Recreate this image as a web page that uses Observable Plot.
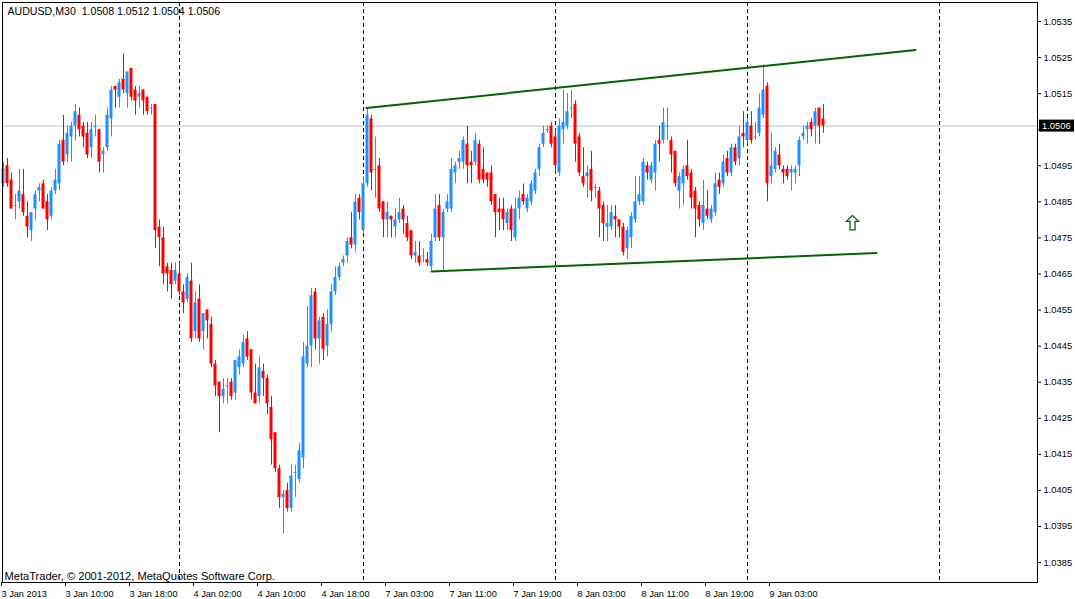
<!DOCTYPE html>
<html><head><meta charset="utf-8">
<script src="https://cdn.jsdelivr.net/npm/d3@7"></script>
<script src="https://cdn.jsdelivr.net/npm/@observablehq/plot@0.6"></script>
<style>html,body{margin:0;padding:0;background:#fff;overflow:hidden}svg{display:block}</style>
</head><body><div id="chart"></div>
<script>
// ---- data (AUDUSD M30, bar index 0 = 3 Jan 2013 02:00) ----
const symbolName = "AUDUSD,M30";
const headerOHLC = ["1.0508", "1.0512", "1.0504", "1.0506"];
const open = [
1.0490,1.0495,1.0491,1.0484,1.0485,1.0487,1.0481,1.0477,1.0483,1.0488,
1.0490,1.0485,1.0481,1.0488,1.0490,1.0502,1.0498,1.0503,1.0506,1.0509,
1.0506,1.0504,1.0500,1.0506,1.0505,1.0498,1.0500,1.0508,1.0517,1.0514,
1.0519,1.0515,1.0522,1.0516,1.0514,1.0516,1.0514,1.0511,1.0512,1.0478,
1.0475,1.0467,1.0466,1.0463,1.0465,1.0460,1.0458,1.0463,1.0449,1.0458,
1.0449,1.0455,1.0451,1.0440,1.0435,1.0431,1.0434,1.0435,1.0432,1.0439,
1.0440,1.0447,1.0444,1.0432,1.0431,1.0438,1.0436,1.0428,1.0421,1.0411,
1.0403,1.0405,1.0400,1.0410,1.0408,1.0414,1.0440,1.0445,1.0460,1.0447,
1.0453,1.0445,1.0451,1.0460,1.0464,1.0468,1.0470,1.0475,1.0473,1.0486,
1.0477,1.0490,1.0508,1.0494,1.0495,1.0485,1.0480,1.0481,1.0478,1.0480,
1.0483,1.0479,1.0477,1.0470,1.0470,1.0470,1.0469,1.0467,1.0475,1.0484,
1.0475,1.0483,1.0483,1.0493,1.0496,1.0496,1.0501,1.0496,1.0496,1.0501,
1.0494,1.0493,1.0493,1.0487,1.0483,1.0483,1.0479,1.0483,1.0475,1.0483,
1.0487,1.0483,1.0485,1.0488,1.0494,1.0501,1.0505,1.0506,1.0503,1.0493,
1.0505,1.0506,1.0511,1.0512,1.0503,1.0492,1.0492,1.0494,1.0489,1.0488,
1.0484,1.0478,1.0478,1.0481,1.0480,1.0478,1.0472,1.0475,1.0480,1.0485,
1.0485,1.0495,1.0491,1.0493,1.0502,1.0502,1.0506,1.0502,1.0499,1.0488,
1.0490,1.0495,1.0493,1.0488,1.0484,1.0479,1.0483,1.0480,1.0482,1.0491,
1.0490,1.0497,1.0493,1.0500,1.0497,1.0504,1.0502,1.0506,1.0503,1.0504,
1.0509,1.0517,1.0492,1.0494,1.0498,1.0494,1.0494,1.0493,1.0493,1.0495,
1.0503,1.0505,1.0507,1.0506,1.0511,1.0508];
const high = [
1.0496,1.0497,1.0493,1.0487,1.0494,1.0494,1.0485,1.0482,1.0488,1.0490,
1.0491,1.0487,1.0489,1.0494,1.0502,1.0509,1.0506,1.0507,1.0512,1.0511,
1.0507,1.0507,1.0507,1.0509,1.0505,1.0500,1.0511,1.0517,1.0517,1.0519,
1.0526,1.0521,1.0522,1.0517,1.0517,1.0516,1.0514,1.0512,1.0512,1.0480,
1.0478,1.0468,1.0468,1.0468,1.0468,1.0462,1.0465,1.0468,1.0460,1.0462,
1.0454,1.0455,1.0453,1.0441,1.0435,1.0436,1.0436,1.0436,1.0441,1.0444,
1.0448,1.0449,1.0444,1.0440,1.0442,1.0440,1.0437,1.0431,1.0421,1.0412,
1.0405,1.0407,1.0412,1.0412,1.0418,1.0446,1.0456,1.0461,1.0461,1.0453,
1.0454,1.0455,1.0462,1.0467,1.0468,1.0470,1.0475,1.0482,1.0487,1.0487,
1.0492,1.0511,1.0509,1.0503,1.0497,1.0485,1.0485,1.0481,1.0483,1.0486,
1.0484,1.0481,1.0477,1.0474,1.0474,1.0472,1.0471,1.0476,1.0487,1.0487,
1.0483,1.0487,1.0497,1.0496,1.0499,1.0503,1.0506,1.0499,1.0504,1.0502,
1.0500,1.0493,1.0495,1.0487,1.0486,1.0486,1.0483,1.0484,1.0486,1.0488,
1.0490,1.0487,1.0491,1.0494,1.0501,1.0506,1.0506,1.0507,1.0505,1.0508,
1.0516,1.0515,1.0516,1.0513,1.0504,1.0500,1.0495,1.0499,1.0490,1.0489,
1.0485,1.0484,1.0484,1.0484,1.0480,1.0479,1.0478,1.0482,1.0492,1.0492,
1.0497,1.0496,1.0496,1.0502,1.0506,1.0511,1.0511,1.0503,1.0499,1.0493,
1.0495,1.0502,1.0494,1.0489,1.0485,1.0491,1.0488,1.0484,1.0493,1.0493,
1.0498,1.0499,1.0501,1.0501,1.0506,1.0510,1.0508,1.0510,1.0507,1.0515,
1.0523,1.0518,1.0504,1.0500,1.0501,1.0495,1.0495,1.0495,1.0495,1.0503,
1.0506,1.0507,1.0508,1.0511,1.0511,1.0512];
const low = [
1.0489,1.0489,1.0483,1.0480,1.0483,1.0481,1.0475,1.0474,1.0480,1.0485,
1.0483,1.0477,1.0480,1.0487,1.0488,1.0495,1.0496,1.0496,1.0502,1.0503,
1.0500,1.0497,1.0497,1.0503,1.0493,1.0493,1.0499,1.0503,1.0511,1.0511,
1.0515,1.0511,1.0513,1.0509,1.0511,1.0509,1.0509,1.0509,1.0472,1.0467,
1.0462,1.0460,1.0458,1.0462,1.0459,1.0454,1.0457,1.0446,1.0447,1.0446,
1.0444,1.0447,1.0439,1.0431,1.0421,1.0429,1.0429,1.0430,1.0430,1.0437,
1.0439,1.0441,1.0430,1.0429,1.0429,1.0431,1.0426,1.0412,1.0410,1.0400,
1.0393,1.0399,1.0399,1.0403,1.0407,1.0411,1.0439,1.0439,1.0444,1.0440,
1.0441,1.0442,1.0449,1.0459,1.0463,1.0467,1.0468,1.0472,1.0471,1.0480,
1.0476,1.0489,1.0488,1.0486,1.0482,1.0475,1.0475,1.0475,1.0475,1.0479,
1.0476,1.0474,1.0469,1.0468,1.0467,1.0468,1.0467,1.0466,1.0474,1.0474,
1.0466,1.0482,1.0482,1.0490,1.0494,1.0494,1.0490,1.0490,1.0495,1.0490,
1.0490,1.0489,1.0484,1.0475,1.0477,1.0477,1.0477,1.0474,1.0474,1.0480,
1.0484,1.0482,1.0484,1.0487,1.0492,1.0500,1.0504,1.0500,1.0493,1.0492,
1.0501,1.0505,1.0508,1.0496,1.0492,1.0489,1.0486,1.0485,1.0486,1.0475,
1.0474,1.0474,1.0477,1.0475,1.0475,1.0470,1.0469,1.0472,1.0479,1.0484,
1.0484,1.0491,1.0490,1.0488,1.0496,1.0501,1.0502,1.0493,1.0489,1.0483,
1.0484,1.0491,1.0483,1.0475,1.0478,1.0477,1.0480,1.0479,1.0481,1.0487,
1.0489,1.0492,1.0492,1.0495,1.0495,1.0500,1.0501,1.0501,1.0502,1.0503,
1.0508,1.0485,1.0490,1.0493,1.0494,1.0490,1.0491,1.0488,1.0490,1.0492,
1.0502,1.0501,1.0503,1.0501,1.0501,1.0504];
const close = [
1.0494,1.0490,1.0483,1.0484,1.0488,1.0482,1.0478,1.0482,1.0487,1.0489,
1.0483,1.0480,1.0488,1.0491,1.0501,1.0496,1.0504,1.0506,1.0510,1.0505,
1.0503,1.0498,1.0505,1.0506,1.0496,1.0499,1.0509,1.0516,1.0516,1.0518,
1.0516,1.0521,1.0514,1.0513,1.0515,1.0513,1.0510,1.0511,1.0477,1.0475,
1.0465,1.0465,1.0462,1.0466,1.0460,1.0457,1.0464,1.0447,1.0457,1.0447,
1.0454,1.0452,1.0440,1.0434,1.0431,1.0433,1.0434,1.0431,1.0441,1.0442,
1.0446,1.0442,1.0432,1.0429,1.0439,1.0436,1.0429,1.0419,1.0411,1.0403,
1.0404,1.0400,1.0409,1.0410,1.0416,1.0442,1.0445,1.0459,1.0447,1.0452,
1.0444,1.0451,1.0460,1.0464,1.0467,1.0469,1.0474,1.0473,1.0485,1.0482,
1.0490,1.0509,1.0493,1.0494,1.0483,1.0480,1.0482,1.0480,1.0480,1.0482,
1.0480,1.0475,1.0470,1.0471,1.0468,1.0470,1.0468,1.0474,1.0483,1.0475,
1.0482,1.0485,1.0494,1.0495,1.0497,1.0502,1.0495,1.0495,1.0502,1.0491,
1.0491,1.0491,1.0485,1.0482,1.0482,1.0480,1.0482,1.0477,1.0483,1.0486,
1.0485,1.0486,1.0490,1.0493,1.0500,1.0504,1.0505,1.0501,1.0495,1.0506,
1.0507,1.0510,1.0511,1.0501,1.0493,1.0490,1.0493,1.0488,1.0489,1.0483,
1.0479,1.0479,1.0482,1.0480,1.0478,1.0471,1.0477,1.0481,1.0485,1.0487,
1.0496,1.0493,1.0495,1.0501,1.0501,1.0507,1.0506,1.0498,1.0490,1.0492,
1.0494,1.0492,1.0486,1.0483,1.0480,1.0484,1.0481,1.0483,1.0490,1.0489,
1.0496,1.0493,1.0500,1.0496,1.0503,1.0503,1.0507,1.0502,1.0503,1.0511,
1.0516,1.0490,1.0495,1.0499,1.0495,1.0493,1.0492,1.0494,1.0494,1.0502,
1.0504,1.0506,1.0505,1.0510,1.0506,1.0506];

const timeLabelIndex = [0, 16, 32, 48, 64, 80, 96, 112, 128, 144, 160, 176, 192];
const timeLabels = ["3 Jan 2013", "3 Jan 10:00", "3 Jan 18:00", "4 Jan 02:00", "4 Jan 10:00",
  "4 Jan 18:00", "7 Jan 03:00", "7 Jan 11:00", "7 Jan 19:00", "8 Jan 03:00", "8 Jan 11:00",
  "8 Jan 19:00", "9 Jan 03:00"];
const daySeparators = [44, 90, 138, 186, 234];
const priceTicks = [1.0385, 1.0395, 1.0405, 1.0415, 1.0425, 1.0435, 1.0445, 1.0455, 1.0465,
  1.0475, 1.0485, 1.0495, 1.0505, 1.0515, 1.0525, 1.0535];
const lastPrice = 1.0506;
const upperChannel = [{i: 90.75, p: 1.05110}, {i: 228, p: 1.05271}];
const lowerChannel = [{i: 107, p: 1.04657}, {i: 218.25, p: 1.04708}];
const arrowSignal = [{i: 212.25, p: 1.04793}];
const caption = "MetaTrader, © 2001-2012, MetaQuotes Software Corp.";

// ---- build ----
const bars = open.map((o, i) => ({i, o, h: high[i], l: low[i], c: close[i]}));
const isUp = d => d.c >= d.o;
const labelMap = new Map(timeLabelIndex.map((d, k) => [d, timeLabels[k]]));
const fmt = d => d.toFixed(4);
// the tick label hidden under the current-price tag is left blank
const tickFmt = d => Math.abs(d - lastPrice) < 0.0003 ? "" : fmt(d);
const BULL = "#1e90ff", BEAR = "#ff0000", GREEN = "#006400";
const FONT = "'Liberation Sans', Arial, sans-serif";

const upArrow = {
  draw(ctx) {
    ctx.moveTo(0, -7);
    ctx.lineTo(6, -1);
    ctx.lineTo(2.5, -1);
    ctx.lineTo(2.5, 7.5);
    ctx.lineTo(-2.5, 7.5);
    ctx.lineTo(-2.5, -1);
    ctx.lineTo(-6, -1);
    ctx.closePath();
  }
};

const plot = Plot.plot({
  width: 1075,
  height: 599,
  marginLeft: 2,
  marginRight: 38,
  marginTop: 2,
  marginBottom: 17,
  x: {domain: [-0.25, 258.5], axis: null, label: null},
  y: {domain: [1.037946, 1.054027], axis: null, label: null},
  style: {fontFamily: FONT, fontSize: "10px", color: "black", background: "white", overflow: "visible"},
  marks: [
    Plot.ruleY([lastPrice], {stroke: "#c0c0c0", strokeWidth: 1}),
    Plot.ruleX(daySeparators, {stroke: "black", strokeDasharray: "4,3", strokeWidth: 1}),
    Plot.ruleX(bars, {filter: isUp, x: "i", y1: "l", y2: "h", stroke: BULL, strokeWidth: 1}),
    Plot.ruleX(bars, {filter: d => !isUp(d), x: "i", y1: "l", y2: "h", stroke: BEAR, strokeWidth: 1}),
    Plot.rect(bars, {filter: d => isUp(d) && d.c !== d.o, x1: d => d.i - 0.375, x2: d => d.i + 0.375, y1: "o", y2: "c", fill: BULL}),
    Plot.rect(bars, {filter: d => !isUp(d), x1: d => d.i - 0.375, x2: d => d.i + 0.375, y1: "o", y2: "c", fill: BEAR}),
    Plot.ruleY(bars, {filter: d => d.c === d.o, x1: d => d.i - 0.375, x2: d => d.i + 0.375, y: "o", stroke: BULL}),
    Plot.line(upperChannel, {x: "i", y: "p", stroke: GREEN, strokeWidth: 2}),
    Plot.line(lowerChannel, {x: "i", y: "p", stroke: GREEN, strokeWidth: 2}),
    Plot.dot(arrowSignal, {x: "i", y: "p", symbol: upArrow, r: 8, stroke: GREEN, fill: "white", strokeWidth: 1.3}),
    Plot.frame({stroke: "black", strokeWidth: 1}),
    Plot.axisY(priceTicks, {anchor: "right", label: null, tickSize: 3, tickPadding: 3, tickFormat: tickFmt, fontSize: 9.4}),
    Plot.axisX(timeLabelIndex, {anchor: "bottom", label: null, tickSize: 4, tickPadding: 4, tickFormat: d => labelMap.get(d), textAnchor: "start", dx: -2, fontSize: 9.2}),
    Plot.text([symbolName + "\u00a0\u00a0" + headerOHLC.join(" ")], {frameAnchor: "top-left", dx: 5, dy: 9, textAnchor: "start", lineAnchor: "middle", fontSize: 10.6, fill: "black"}),
    Plot.text([caption], {frameAnchor: "bottom-left", dx: 2, dy: -6, textAnchor: "start", lineAnchor: "middle", fontSize: 11.1, fill: "black"})
  ]
});

document.getElementById("chart").appendChild(plot);

// current price tag on the price scale
const svg = d3.select(plot);
const yPix = plot.scale("y").apply(lastPrice);
const xRight = plot.scale("x").range[1];
const tag = svg.append("g").attr("text-anchor", "start");
tag.append("rect").attr("x", xRight + 2).attr("y", yPix - 6).attr("width", 35).attr("height", 12).attr("fill", "black");
tag.append("text").attr("x", xRight + 5).attr("y", yPix).attr("dy", "0.35em").attr("fill", "white")
  .attr("text-anchor", "start").attr("font-size", 9.4).attr("font-family", FONT).text(fmt(lastPrice));
</script>
</body></html>
